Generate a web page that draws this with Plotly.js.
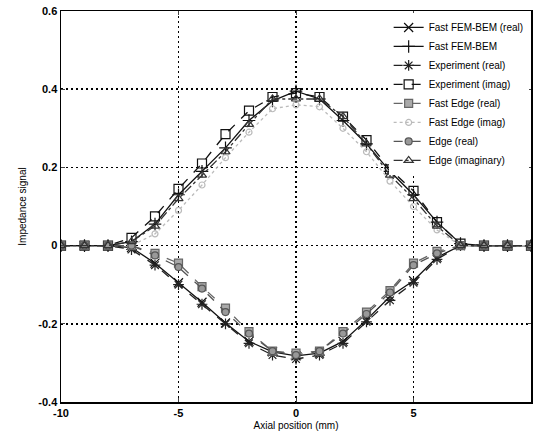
<!DOCTYPE html>
<html><head><meta charset="utf-8">
<script src="https://cdn.plot.ly/plotly-3.0.1.min.js"></script>
<style>html,body{margin:0;padding:0;background:#fff}#c{width:537px;height:437px}</style>
</head><body><div id="c"></div>
<script>
const positions = [-10,-9,-8,-7,-6,-5,-4,-3,-2,-1,0,1,2,3,4,5,6,7,8,9,10];
const femReal   = [0,0,0,-0.005,-0.045,-0.095,-0.145,-0.198,-0.245,-0.272,-0.282,-0.275,-0.245,-0.19,-0.13,-0.09,-0.03,0,0,0,0];
const femImag   = [0,0,0,0.01,0.055,0.13,0.19,0.25,0.32,0.37,0.395,0.375,0.32,0.26,0.19,0.13,0.06,0.005,0,0,0];
const expReal   = [0,0,0,-0.01,-0.05,-0.10,-0.15,-0.20,-0.25,-0.28,-0.29,-0.28,-0.25,-0.195,-0.14,-0.095,-0.035,0,0,0,0];
const expImag   = [0,0,0,0.02,0.075,0.145,0.21,0.285,0.345,0.38,0.39,0.38,0.33,0.27,0.195,0.14,0.06,0.005,0,0,0];
const fastEdgeReal = [0,0,0,0,-0.02,-0.045,-0.105,-0.16,-0.22,-0.27,-0.275,-0.27,-0.22,-0.17,-0.115,-0.045,-0.015,0,0,0,0];
const fastEdgeImag = [0,0,0,0,0.03,0.09,0.155,0.225,0.29,0.35,0.36,0.355,0.30,0.24,0.165,0.10,0.04,0,0,0,0];
const edgeReal  = [0,0,0,0,-0.025,-0.055,-0.11,-0.17,-0.225,-0.27,-0.28,-0.27,-0.225,-0.175,-0.12,-0.05,-0.02,0,0,0,0];
const edgeImag  = [0,0,0,0.01,0.05,0.12,0.18,0.24,0.31,0.375,0.375,0.375,0.33,0.26,0.18,0.12,0.05,0,0,0,0];
const names = ["Fast FEM-BEM (real)","Fast FEM-BEM","Experiment (real)","Experiment (imag)","Fast Edge (real)","Fast Edge (imag)","Edge (real)","Edge (imaginary)"];
const xTicks = [-10,-5,0,5,10];
const yTicks = [-0.4,-0.2,0,0.2,0.4,0.6];
const yTickText = ["-0.4","-0.2","0","0.2","0.4","0.6"];

function tr(y, name, sym, color, dash, msize, mfill){
  return {x: positions, y: y, name: name, type:'scatter', mode:'lines+markers',
    line:{color: color, width: 1.3, dash: dash},
    marker:{symbol: sym, size: msize, color: mfill || color, line:{color: color, width: 1.2}}};
}
const data = [
  tr(femReal, names[0], 'x-thin-open', '#111', 'solid', 9),
  tr(femImag, names[1], 'cross-thin-open', '#111', 'solid', 9),
  tr(expReal, names[2], 'asterisk-open', '#222', 'dash', 9),
  tr(expImag, names[3], 'square-open', '#111', 'dash', 9),
  tr(fastEdgeReal, names[4], 'square', '#666', 'dash', 8, '#aaa'),
  tr(fastEdgeImag, names[5], 'circle-open', '#bbb', 'dot', 6),
  tr(edgeReal, names[6], 'circle', '#555', 'dash', 7, '#999'),
  tr(edgeImag, names[7], 'triangle-up-open', '#333', 'dashdot', 8)
];
const layout = {
  width:537, height:437,
  margin:{l:61, r:6, t:11, b:35},
  paper_bgcolor:'#fff', plot_bgcolor:'#fff',
  font:{family:'Liberation Sans, Arial, sans-serif', color:'#000', size:10},
  showlegend:true,
  legend:{x:0.995, xanchor:'right', y:0.995, yanchor:'top', bgcolor:'#fff', borderwidth:0,
    font:{size:10, color:'#000'}, tracegroupgap:0},
  xaxis:{range:[-10,10], tickvals:xTicks, ticktext:xTicks.map(String), showgrid:true,
    gridcolor:'#000', griddash:'2px,3px', gridwidth:1.5, zeroline:false,
    showline:true, linecolor:'#000', linewidth:1.5, mirror:'ticks', ticks:'inside', ticklen:4,
    tickfont:{size:11, family:'Liberation Sans, Arial, sans-serif', weight:'bold'},
    title:{text:'Axial position (mm)', font:{size:10}, standoff:4}},
  yaxis:{range:[-0.4,0.6], tickvals:yTicks, ticktext:yTickText, showgrid:true,
    gridcolor:'#000', griddash:'2px,3px', gridwidth:1.5, zeroline:false,
    showline:true, linecolor:'#000', linewidth:1.5, mirror:'ticks', ticks:'inside', ticklen:4,
    tickfont:{size:11, family:'Liberation Sans, Arial, sans-serif', weight:'bold'},
    title:{text:'Impedance signal', font:{size:10}, standoff:10}}
};
Plotly.newPlot('c', data, layout, {displayModeBar:false, staticPlot:true});
</script></body></html>
